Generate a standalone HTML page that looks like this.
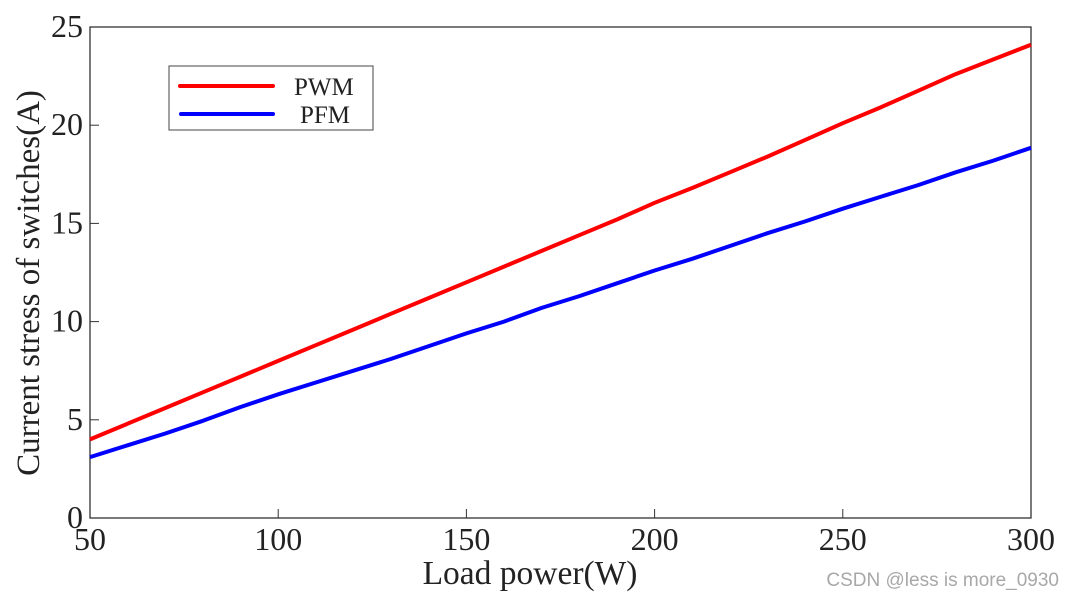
<!DOCTYPE html>
<html><head><meta charset="utf-8"><style>
body{margin:0;background:#fff;width:1075px;height:599px;overflow:hidden}
svg text{font-family:"Liberation Serif",serif;fill:#222}
</style></head><body>
<svg id="chart" width="1075" height="599" xmlns="http://www.w3.org/2000/svg"></svg>
<script>
const xVals=[50,60,70,80,90,100,110,120,130,140,150,160,170,180,190,200,210,220,230,240,250,260,270,280,290,300];
const pwm=[4.0,4.8,5.6,6.4,7.2,8.0,8.8,9.6,10.4,11.2,12.0,12.8,13.6,14.4,15.2,16.05,16.8,17.6,18.4,19.25,20.1,20.9,21.75,22.6,23.35,24.1];
const pfm=[3.1,3.7,4.3,4.95,5.65,6.3,6.9,7.5,8.1,8.75,9.4,10.0,10.7,11.3,11.95,12.6,13.2,13.85,14.5,15.1,15.75,16.35,16.95,17.6,18.2,18.85];
const xTicks=[50,100,150,200,250,300];
const yTicks=[0,5,10,15,20,25];
const NS="http://www.w3.org/2000/svg";
const svg=document.getElementById('chart');
const L=90,R=1031,T=27,B=518;
const xs=v=>L+(v-50)/250*(R-L);
const ys=v=>B-v/25*(B-T);
function el(tag,attrs,txt){const e=document.createElementNS(NS,tag);for(const k in attrs)e.setAttribute(k,attrs[k]);if(txt!==undefined)e.textContent=txt;svg.appendChild(e);return e;}
const frame=el('rect',{x:L,y:T,width:R-L,height:B-T,fill:'none',stroke:'#333','stroke-width':1.3});


xTicks.forEach(t=>{
 const l=el('line',{x1:xs(t),x2:xs(t),y1:B,y2:B-9,stroke:'#333','stroke-width':1});
 
 
 const tx=el('text',{x:xs(t),y:B+32,'font-size':32,'text-anchor':'middle'},t);
 
 
});
yTicks.forEach(t=>{
 const l=el('line',{x1:L,x2:L+9,y1:ys(t),y2:ys(t),stroke:'#333','stroke-width':1});
 
 
 const tx=el('text',{x:L-7,y:ys(t)+10,'font-size':32,'text-anchor':'end'},t);
 
 
});
function series(arr,color,name){
 const d=arr.map((v,i)=>(i?'L':'M')+xs(xVals[i]).toFixed(1)+','+ys(v).toFixed(1)).join(' ');
 const p=el('path',{d:d,fill:'none',stroke:color,'stroke-width':4,'stroke-linejoin':'round'});
 
 
}
series(pwm,'#ff0000','pwm-line');
series(pfm,'#0000ff','pfm-line');
const xt=el('text',{x:530,y:584,'font-size':33.5,'text-anchor':'middle'},'Load power(W)');


const yt=el('text',{x:0,y:0,'font-size':33,'text-anchor':'middle',transform:'translate(39,283) rotate(-90)'},'Current stress of switches(A)');


const lg=el('rect',{x:169,y:66,width:204,height:64,fill:'#fff',stroke:'#444','stroke-width':1});


const l1=el('line',{x1:180,x2:273,y1:86,y2:86,stroke:'#ff0000','stroke-width':4,'stroke-linecap':'round'});


const t1=el('text',{x:294,y:95,'font-size':25,fill:'#000'},'PWM');


const l2=el('line',{x1:181,x2:273,y1:114,y2:114,stroke:'#0000ff','stroke-width':4,'stroke-linecap':'round'});


const t2=el('text',{x:300,y:123,'font-size':25,fill:'#000'},'PFM');


const wm=el('text',{x:1059,y:586,'font-size':19,'text-anchor':'end',style:'font-family:"Liberation Sans",sans-serif;fill:#a8a8a8'},'CSDN @less is more_0930');


</script>
</body></html>
